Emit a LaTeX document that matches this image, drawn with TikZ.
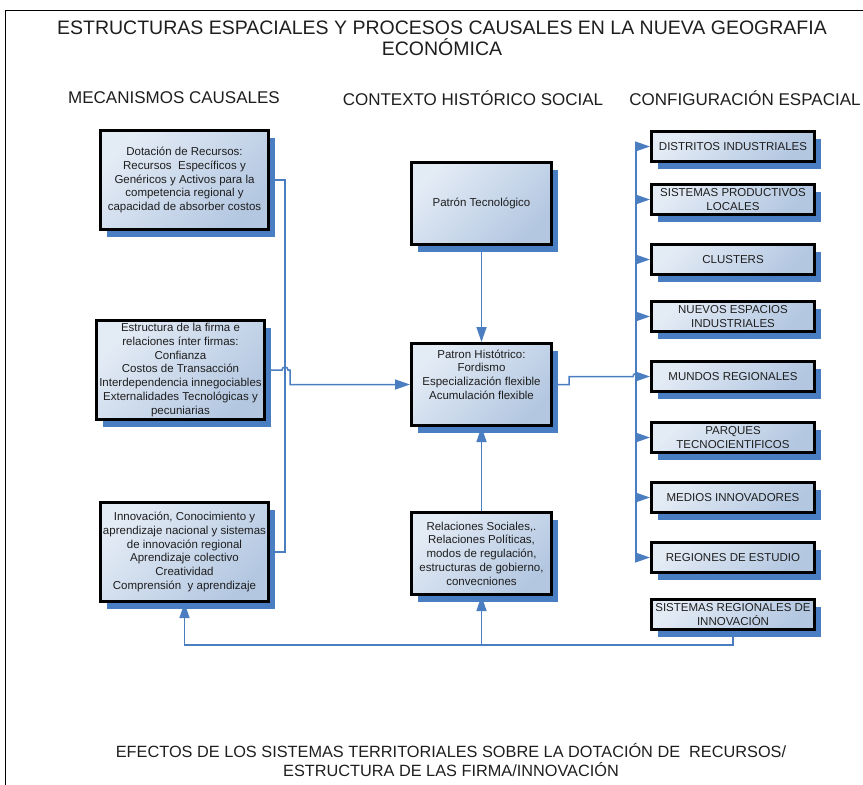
\documentclass[tikz,border=0pt]{standalone}
\usepackage{fontspec}
\setmainfont{Liberation Sans}
\usetikzlibrary{arrows.meta,shadows,backgrounds,calc}

\definecolor{boxlight}{HTML}{E3EBF5}
\definecolor{boxdark}{HTML}{B3C7E1}
\definecolor{shadowblue}{HTML}{4A7EC2}
\definecolor{linkblue}{HTML}{4A7EC0}
\definecolor{inktext}{HTML}{1E1E1E}

\tikzset{
  box/.style={draw=black, line width=3pt, shade, top color=boxlight,
    bottom color=boxdark, shading angle=45,
    general shadow={fill=shadowblue, shadow xshift=6pt, shadow yshift=-7pt},
    align=center, text=inktext, inner sep=1pt,
    font=\fontsize{11.5}{13.8}\selectfont},
  lbox/.style={box, minimum width=168pt, minimum height=99pt},
  cbox/.style={box, minimum width=140pt, minimum height=82pt},
  rbox/.style={box, minimum width=163pt, minimum height=30pt},
  heading/.style={text=inktext, align=center, font=\fontsize{17}{19.5}\selectfont},
  link/.style={draw=linkblue, line width=1.5pt},
  arr/.style={link, -{Triangle[length=15pt 0 0,width=10pt 0 0]}},
}

\begin{document}
\begin{tikzpicture}[x=1pt, y=-1pt]
\useasboundingbox (0,0) rectangle (863,785);

% outer frame (open on the right)
\draw[line width=1pt] (5,785) -- (5,10) -- (863,10);

% titles
\node[heading, font=\fontsize{19.5}{21}\selectfont] (title) at (442,38.5)
  {ESTRUCTURAS ESPACIALES Y PROCESOS CAUSALES EN LA NUEVA GEOGRAFIA\\ ECONÓMICA};
\node[heading] (hmec) at (174,98) {MECANISMOS CAUSALES};
\node[heading] (hctx) at (473,98) {CONTEXTO HISTÓRICO SOCIAL};
\node[heading] (hcfg) at (745,98) {CONFIGURACIÓN ESPACIAL};
\node[heading, font=\fontsize{16.3}{19.5}\selectfont] (foot) at (451,760)
  {EFECTOS DE LOS SISTEMAS TERRITORIALES SOBRE LA DOTACIÓN DE\ \ RECURSOS/\\ ESTRUCTURA DE LAS FIRMA/INNOVACIÓN};

% causal mechanisms
\node[lbox] (res) at (184.5,180) {Dotación de Recursos:\\ Recursos\ \ Específicos y\\ Genéricos y Activos para la\\ competencia regional y\\ capacidad de absorber costos};
\node[lbox] (firm) at (180.5,370) {Estructura de la firma e\\ relaciones ínter firmas:\\ Confianza\\ Costos de Transacción\\ Interdependencia innegociables\\ Externalidades Tecnológicas y\\ pecuniarias};
\node[lbox] (inno) at (184.5,552) {Innovación, Conocimiento y\\ aprendizaje nacional y sistemas\\ de innovación regional\\ Aprendizaje colectivo\\ Creatividad\\ Comprensión\ \ y aprendizaje};

% historical-social context
\node[cbox] (tec) at (481.5,203.5) {Patrón Tecnológico};
\node[cbox] (hist) at (481.5,384.5) {Patron Histótrico:\\ Fordismo\\ Especialización flexible\\ Acumulación flexible\\[6pt]\mbox{}};
\node[cbox] (soc) at (481.5,553.5) {Relaciones Sociales,.\\ Relaciones Políticas,\\ modos de regulación,\\ estructuras de gobierno,\\ convecniones};

% spatial configurations
\node[rbox] (dist) at (733,146.5) {DISTRITOS INDUSTRIALES};
\node[rbox] (spl)  at (733,199.5) {SISTEMAS PRODUCTIVOS\\ LOCALES};
\node[rbox] (clu)  at (733,259.5) {CLUSTERS};
\node[rbox] (nei)  at (733,316.5) {NUEVOS ESPACIOS\\ INDUSTRIALES};
\node[rbox] (mun)  at (733,376.5) {MUNDOS REGIONALES};
\node[rbox] (par)  at (733,437.5) {PARQUES\\ TECNOCIENTIFICOS};
\node[rbox] (med)  at (733,497.5) {MEDIOS INNOVADORES};
\node[rbox] (reg)  at (733,557.5) {REGIONES DE ESTUDIO};
\node[rbox] (sri)  at (733,614.5) {SISTEMAS REGIONALES DE\\ INNOVACIÓN};

% connector guides
\coordinate (lspine) at (285,0);
\coordinate (rbus) at (636,0);
\coordinate (loop) at (0,645);

\begin{scope}[on background layer]
  % left spine joining the mechanisms
  \draw[link] (res.east) -- (res.east -| lspine) -- (inno.east -| lspine) -- (inno.east);
  % firm structure into the historical pattern, hopping over the spine
  \draw[arr] (firm.east) -- ($(firm.east -| lspine)+(-3,0)$)
    arc[start angle=180, end angle=0, radius=3pt]
    -- ($(firm.east -| lspine)+(5,0)$) |- (hist.west);
  % vertical arrows in the centre column
  \draw[arr] (tec.south) -- (hist.north);
  \draw[arr] (soc.north) -- (hist.south);
  % distribution bus on the right
  \draw[link] (dist.west -| rbus) -- (reg.west -| rbus);
  \foreach \b in {dist,spl,clu,nei,par,med,reg}
    \draw[arr] (\b.west -| rbus) -- (\b.west);
  % historical pattern out to the bus, hopping over it
  \draw[arr] (hist.east) -- ++(16,0) |- ($(mun.west -| rbus)+(-3,0)$)
    arc[start angle=180, end angle=0, radius=3pt] -- (mun.west);
  % feedback loop along the bottom
  \draw[arr] (sri.south) |- (inno.south |- loop) -- (inno.south);
  \draw[arr] (soc.south |- loop) -- (soc.south);
\end{scope}
\end{tikzpicture}
\end{document}
